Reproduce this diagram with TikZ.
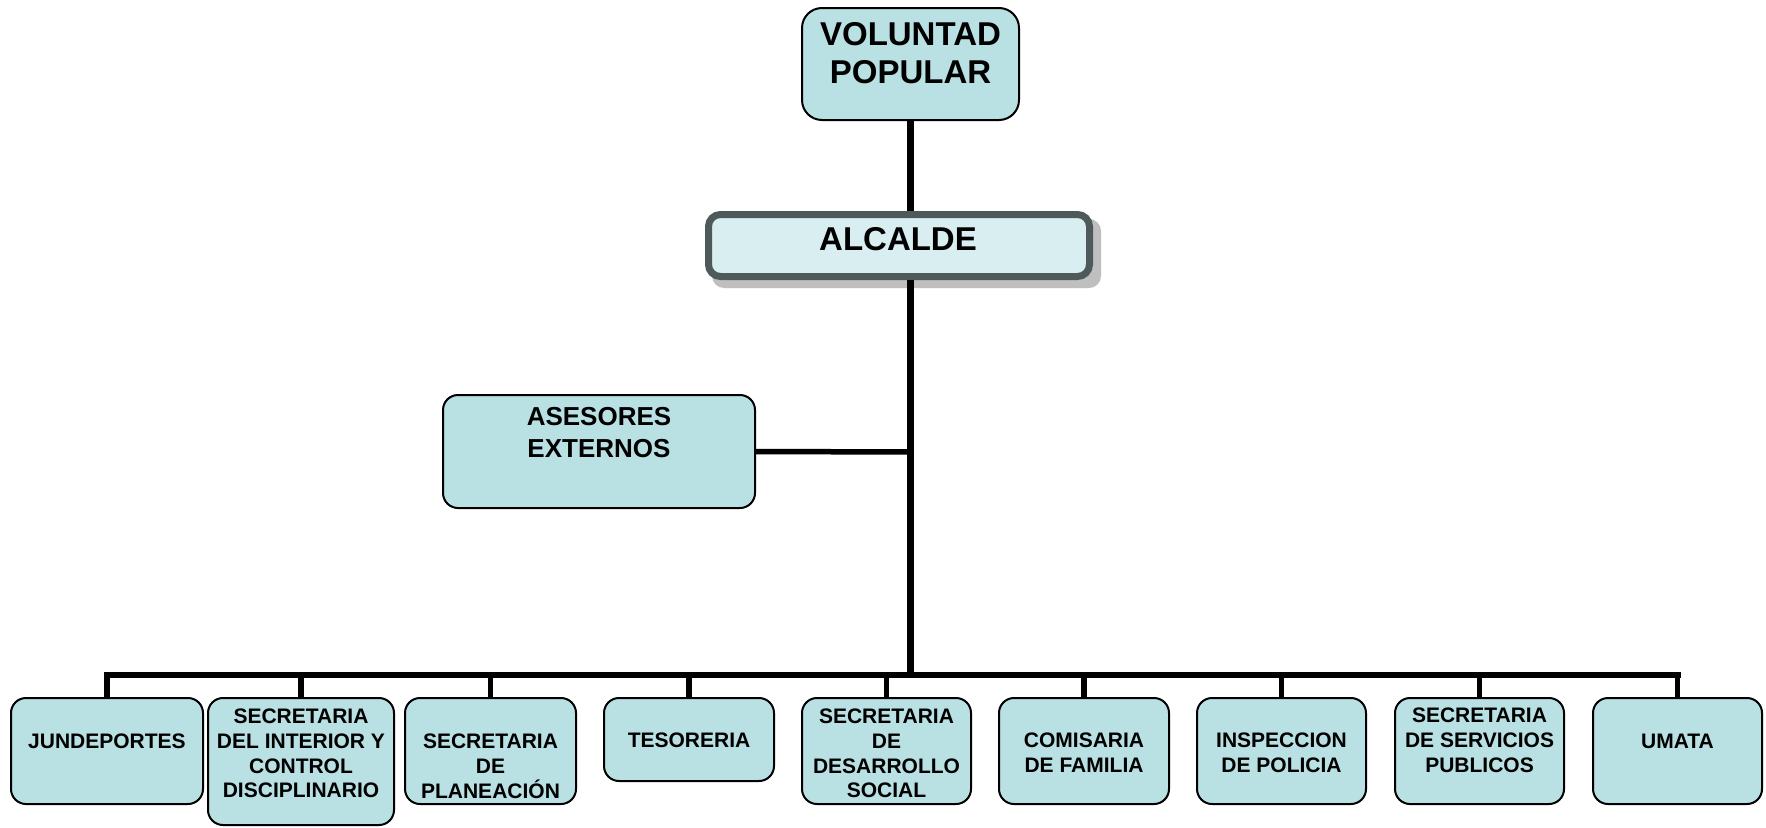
\documentclass[tikz,border=0pt]{standalone}
\usepackage{fontspec}
\setmainfont{Liberation Sans}
\begin{document}
\begin{tikzpicture}[x=1pt,y=-1pt,
  box/.style={draw=black, line width=2pt, fill=boxfill, rounded corners=15pt, inner sep=0pt},
  txt/.style={align=center, inner sep=0pt, font=\bfseries\fontsize{21}{24.8}\selectfont},
  conn/.style={line width=5.5pt, draw=black},
  trunk/.style={line width=7pt, draw=black}]
\definecolor{boxfill}{HTML}{B9E0E3}
\definecolor{alcfill}{HTML}{D9EEF1}
\definecolor{alcborder}{HTML}{4E5A5A}
\definecolor{shadowgray}{HTML}{BFBFBF}
\useasboundingbox (0,0) rectangle (1766,827);
\fill[white] (0,0) rectangle (1766,827);

% top
\node[box, rounded corners=20pt, minimum width=217pt, minimum height=112pt] (vol) at (910.5,64) {};
\node[txt, font=\bfseries\fontsize{33}{38}\selectfont] (volt) at (910.5,53) {VOLUNTAD\\POPULAR};

% alcalde with shadow
\fill[shadowgray, rounded corners=12pt] (712,219) rectangle (1101,288);
\node[draw=alcborder, line width=7pt, fill=alcfill, rounded corners=12pt, inner sep=0pt,
  minimum width=381pt, minimum height=62pt] (alc) at (899,245.5) {};
\node[txt, font=\bfseries\fontsize{33}{38}\selectfont] (alct) at (898,239) {ALCALDE};

% asesores
\node[box, minimum width=312pt, minimum height=113pt] (ase) at (599,451.5) {};
\node[txt, font=\bfseries\fontsize{26}{31.5}\selectfont] (aset) at (599,432.5) {ASESORES\\EXTERNOS};

% bottom boxes
\node[box, minimum width=192pt, minimum height=106pt] (b1) at (107,751) {};
\node[box, minimum width=186pt, minimum height=127pt] (b2) at (301,761.5) {};
\node[box, minimum width=171pt, minimum height=106pt] (b3) at (490.5,751) {};
\node[box, minimum width=170pt, minimum height=83pt] (b4) at (689,739.5) {};
\node[box, minimum width=169pt, minimum height=106pt] (b5) at (886.5,751) {};
\node[box, minimum width=170pt, minimum height=106pt] (b6) at (1084,751) {};
\node[box, minimum width=169pt, minimum height=106pt] (b7) at (1281.5,751) {};
\node[box, minimum width=169pt, minimum height=106pt] (b8) at (1479.5,751) {};
\node[box, minimum width=169pt, minimum height=106pt] (b9) at (1677.5,751) {};

\node[txt] (t1) at (107,741) {JUNDEPORTES};
\node[txt] (t2) at (301,753.5) {SECRETARIA\\DEL INTERIOR Y\\CONTROL\\DISCIPLINARIO};
\node[txt] (t3) at (490.5,766) {SECRETARIA\\DE\\PLANEACIÓN};
\node[txt] (t4) at (689,740) {TESORERIA};
\node[txt] (t5) at (886.5,753.5) {SECRETARIA\\DE\\DESARROLLO\\SOCIAL};
\node[txt] (t6) at (1084,753) {COMISARIA\\DE FAMILIA};
\node[txt] (t7) at (1281.5,753) {INSPECCION\\DE POLICIA};
\node[txt] (t8) at (1479.5,740) {SECRETARIA\\DE SERVICIOS\\PUBLICOS};
\node[txt] (t9) at (1677.5,741) {UMATA};

% connectors
\coordinate (busc) at (910,675);
\coordinate (asej) at (910,452);
\draw[trunk] (vol.south -| busc) -- (alc.north -| busc);
\draw[trunk] (alc.south -| busc) -- (busc);
\draw[conn] (ase.east) -- (asej);
\foreach \b in {b1,b2,b3,b4,b5,b6,b7,b8,b9}{
  \draw[conn] (busc -| \b.north) -- (\b.north);
}
\draw[line width=6pt, line cap=rect] (busc -| b1.north) -- (busc -| b9.north);
\end{tikzpicture}
\end{document}
